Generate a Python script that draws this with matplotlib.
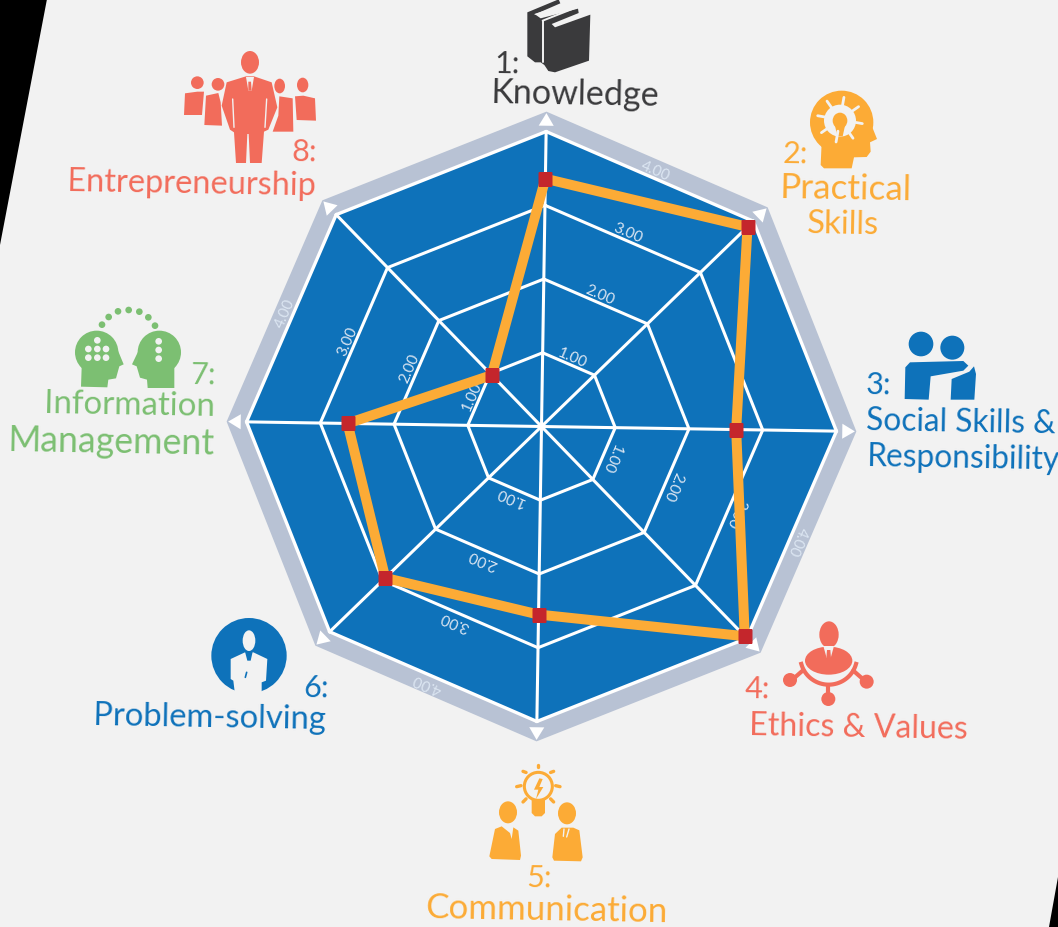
import numpy as np
import matplotlib
matplotlib.use("Agg")
import matplotlib.pyplot as plt
from matplotlib.patches import Polygon, Circle, Ellipse

# ---------- data ----------
categories = ["Knowledge", "Practical Skills", "Social Skills & Responsibility", "Ethics & Values",
              "Communication", "Problem-solving", "Information Management", "Entrepreneurship"]
values = [3.36, 3.89, 2.64, 3.96, 2.55, 2.95, 2.63, 0.97]
ring_levels = [1, 2, 3, 4]
ring_labels = ["1.00", "2.00", "3.00", "4.00"]
label_spoke_angles = [22.5, 112.5, 202.5, 292.5]

# ---------- style ----------
W, H = 1058, 928
BG = "#F2F2F2"; BLUE = "#0E72BA"; BAND = "#B8C2D4"; ORANGE = "#FCAB36"
RED = "#C4262C"; CORAL = "#F26C5B"; GREEN = "#7CBF72"; DARK = "#3A3A3C"
FONT = ["Lato", "Open Sans", "DejaVu Sans"]
CX, CY = 541.5, 427.5
PX_PER_UNIT = 73.75
TILT = 0.9
RMAX = 4.4
BAND_R = 4.27

fig = plt.figure(figsize=(W / 100, H / 100), dpi=100, facecolor=BG)

# background corners
bgax = fig.add_axes([0, 0, 1, 1], zorder=0)
bgax.set_xlim(0, W); bgax.set_ylim(H, 0); bgax.axis("off")
bgax.add_patch(Polygon([(0, 0), (47, 0), (0, 246)], fc="black", ec="none"))
bgax.add_patch(Polygon([(W, 878), (W, H), (1049, H)], fc="black", ec="none"))

# radar
R = RMAX * PX_PER_UNIT
ax = fig.add_axes([(CX - R) / W, (H - CY - R) / H, 2 * R / W, 2 * R / H],
                  projection="polar", zorder=1)
ax.patch.set_alpha(0)
ax.set_theta_zero_location("N")
ax.set_theta_direction(-1)
ax.set_theta_offset(np.pi / 2 - np.radians(TILT))
ax.set_ylim(0, RMAX)
ax.grid(False); ax.set_xticks([]); ax.set_yticks([])
ax.spines["polar"].set_visible(False)

n = len(categories)
th = np.arange(n) * 2 * np.pi / n
th_c = np.r_[th, th[0]]


def ring(r):
    return np.full(n + 1, r)


ax.fill(th_c, ring(BAND_R), fc=BAND, ec="none", zorder=1)
ax.fill(th_c, ring(ring_levels[-1]), fc=BLUE, ec="white", lw=2.4, zorder=2, joinstyle="miter")
for lv in ring_levels[:-1]:
    ax.plot(th_c, ring(lv), color="white", lw=2.2, zorder=3)
for t in th:
    ax.plot([t, t], [0, ring_levels[-1]], color="white", lw=2.2, zorder=3)
    ax.fill([t, t - 0.025, t + 0.025], [4.25, 4.08, 4.08], fc="white", ec="none", zorder=2.5)

# ring value labels
for a in label_spoke_angles:
    for lv, s in zip(ring_levels, ring_labels):
        ax.text(np.radians(a + 0.6), lv * np.cos(np.pi / 8) + 0.11, s, color="#DCE6F2", fontsize=11,
                family=FONT, rotation=-a - TILT, rotation_mode="anchor",
                ha="center", va="center", zorder=4)

# series
ax.plot(np.r_[th, th[0]], np.r_[values, values[0]], color=ORANGE, lw=7.2, zorder=5,
        solid_joinstyle="miter")
ax.plot(th, values, ls="none", marker="s", ms=10.5, mfc=RED, mec="none", zorder=6)

# overlay: icons, labels
ov = fig.add_axes([0, 0, 1, 1], zorder=2)
ov.set_xlim(0, W); ov.set_ylim(H, 0); ov.axis("off"); ov.patch.set_alpha(0)


def poly(pts, ox, oy, col, s=3.0, **kw):
    ov.add_patch(Polygon([(ox + x / s, oy + y / s) for x, y in pts], fc=col, ec="none", **kw))


def circ(x, y, r, ox, oy, col, s=3.0):
    ov.add_patch(Circle((ox + x / s, oy + y / s), r / s, fc=col, ec="none"))


def ell(x, y, w, h, ox, oy, col, s=3.0, ang=0):
    ov.add_patch(Ellipse((ox + x / s, oy + y / s), w / s, h / s, angle=ang, fc=col, ec="none"))


def seg(x0, y0, x1, y1, ox, oy, col, lw=2, s=3.0):
    ov.plot([ox + x0 / s, ox + x1 / s], [oy + y0 / s, oy + y1 / s], color=col, lw=lw,
            solid_capstyle="round")


# 1 books
ox, oy = 440, 0
poly([(262, 40), (356, 1), (361, 13), (285, 46), (302, 58), (414, 29), (416, 42), (335, 75), (345, 85),
      (451, 47), (447, 185), (345, 220), (325, 216), (313, 198), (302, 190), (285, 190), (262, 172)], ox, oy, DARK)
seg(285, 46, 390, 12, ox, oy, BG, 0.8)
seg(308, 65, 308, 190, ox, oy, BG, 1.4)
seg(308, 65, 412, 24, ox, oy, BG, 1.4)

# 2 head with gear
ox, oy = 740, 80
circ(305, 130, 95, ox, oy, ORANGE)
poly([(245, 190), (242, 258), (252, 268), (335, 268), (342, 235), (380, 234), (392, 218), (390, 190),
      (411, 180), (395, 140), (360, 90), (300, 100)], ox, oy, ORANGE)
circ(300, 125, 48, ox, oy, BG)
for a in np.radians(np.arange(0, 360, 45) + 10):
    seg(300 + 35 * np.cos(a), 122 + 35 * np.sin(a), 300 + 68 * np.cos(a), 122 + 68 * np.sin(a), ox, oy, BG, 2.0)
ell(300, 125, 44, 48, ox, oy, ORANGE)
poly([(285, 140), (315, 140), (308, 172), (292, 172)], ox, oy, ORANGE)

# 3 hug
circ(543, 795, 37, ox, oy, BLUE)
circ(637, 806, 36, ox, oy, BLUE)
poly([(494, 960), (496, 865), (510, 850), (670, 846), (685, 860), (670, 875), (572, 892), (566, 962)], ox, oy, BLUE)
poly([(632, 962), (635, 900), (688, 878), (702, 862), (708, 885), (703, 962)], ox, oy, BLUE)

# 4 ethics person
ox, oy = 770, 615
ell(177, 62, 58, 80, ox, oy, CORAL)
ell(176, 140, 142, 84, ox, oy, CORAL)
poly([(160, 96), (192, 96), (182, 132), (170, 132)], ox, oy, BG)
poly([(171, 108), (181, 108), (183, 132), (169, 132)], ox, oy, CORAL)
t = np.radians(np.linspace(15, 165, 40))
ov.plot(ox + (176 + 85 * np.cos(t)) / 3, oy + (128 + 84 * np.sin(t)) / 3, color=CORAL, lw=3.0)
circ(60, 198, 21, ox, oy, CORAL)
circ(290, 203, 21, ox, oy, CORAL)
circ(175, 255, 21, ox, oy, CORAL)
seg(75, 190, 100, 168, ox, oy, CORAL, 3)
seg(275, 192, 250, 170, ox, oy, CORAL, 3)
seg(175, 212, 175, 240, ox, oy, CORAL, 3)

# 5 communication
ox, oy = 480, 760
for a in np.radians([-90, -45, 0, 45, 135, 180, 225]):
    seg(175 + 52 * np.cos(a), 80 + 56 * np.sin(a), 175 + 65 * np.cos(a), 83 + 65 * np.sin(a), ox, oy, ORANGE, 2.4)
ov.add_patch(Ellipse((ox + 175 / 3, oy + 82 / 3), 84 / 3, 84 / 3, fc="none", ec=ORANGE, lw=2.2))
poly([(155, 122), (195, 122), (195, 162), (185, 172), (165, 172), (155, 162)], ox, oy, ORANGE)
poly([(178, 58), (162, 92), (175, 92), (168, 120), (190, 84), (178, 84), (188, 60)], ox, oy, ORANGE)
ell(84, 160, 54, 66, ox, oy, ORANGE)
ell(261, 163, 54, 66, ox, oy, ORANGE)
poly([(45, 210), (65, 202), (90, 222), (95, 240), (100, 205), (115, 215), (123, 290), (120, 303),
      (35, 300), (28, 292)], ox, oy, ORANGE)
poly([(245, 206), (280, 206), (298, 214), (308, 295), (303, 307), (222, 305), (217, 295), (225, 225)], ox, oy, ORANGE)
seg(252, 210, 250, 232, ox, oy, BG, 1)
seg(267, 210, 260, 234, ox, oy, BG, 1)

# 6 problem solving
ox, oy = 0, 290
circ(747, 1100, 113, ox, oy, BLUE)
ell(747, 1055, 38, 62, ox, oy, BG)
poly([(692, 1110), (735, 1090), (760, 1090), (802, 1110), (798, 1175), (785, 1180), (785, 1216),
      (705, 1216), (700, 1175), (692, 1170)], ox, oy, BG)
poly([(735, 1088), (758, 1088), (752, 1115), (742, 1115)], ox, oy, BLUE)
seg(740, 1150, 736, 1165, ox, oy, BLUE, 1.2)

# 7 information heads
circ(290, 190, 65, ox, oy, GREEN)
poly([(245, 235), (243, 293), (322, 295), (325, 272), (348, 268), (358, 232), (371, 226), (352, 180), (290, 150)], ox, oy, GREEN)
for x, y in [(292, 154), (265, 180), (292, 180), (318, 180), (265, 206), (292, 206), (318, 206)]:
    circ(x, y, 10, ox, oy, BG)
circ(478, 190, 65, ox, oy, GREEN)
poly([(523, 235), (523, 297), (443, 297), (441, 272), (420, 266), (410, 232), (396, 226), (418, 180), (478, 150)], ox, oy, GREEN)
for x, y in [(476, 157), (476, 183), (476, 209)]:
    circ(x, y, 10, ox, oy, BG)
for x, y in [(306, 107), (326, 84), (354, 67), (386, 63), (418, 68), (445, 85), (465, 110)]:
    circ(x, y, 10, ox, oy, GREEN)

# 8 entrepreneurship
ox, oy = 0, 0
ell(750, 190, 54, 68, ox, oy, CORAL)
poly([(738, 232), (762, 232), (815, 250), (832, 325), (805, 392), (792, 398), (785, 492), (750, 492), (746, 405),
      (742, 405), (738, 492), (708, 492), (702, 400), (690, 392), (665, 320), (680, 250)], ox, oy, CORAL)
poly([(738, 234), (762, 234), (755, 275), (745, 275)], ox, oy, BG)
poly([(745, 248), (753, 248), (755, 275), (745, 275)], ox, oy, CORAL)
seg(698, 300, 702, 385, ox, oy, BG, 1)
seg(800, 300, 795, 385, ox, oy, BG, 1)
circ(592, 251, 19, ox, oy, CORAL)
poly([(555, 283), (592, 278), (612, 278), (606, 348), (552, 348)], ox, oy, CORAL)
circ(654, 256, 19, ox, oy, CORAL)
poly([(618, 290), (655, 282), (662, 310), (666, 380), (613, 378)], ox, oy, CORAL)
ell(839, 261, 32, 44, ox, oy, CORAL)
poly([(838, 292), (878, 298), (880, 398), (818, 398), (835, 350)], ox, oy, CORAL)
ell(908, 258, 34, 44, ox, oy, CORAL)
poly([(885, 292), (910, 290), (945, 298), (948, 365), (890, 363)], ox, oy, CORAL)

# text labels (text, x, y, ha, colour, width in pixels the word spans)
label_items = [
    ("1:", 507, 64, "center", DARK, 0), ("Knowledge", 575, 94, "center", DARK, 169),
    ("2:", 795, 154, "center", ORANGE, 0), ("Practical", 846, 189, "center", ORANGE, 131), ("Skills", 843, 225, "center", ORANGE, 72),
    ("3:", 879, 385, "center", BLUE, 0), ("Social Skills &", 866, 421, "left", BLUE, 189), ("Responsibility", 866, 457, "left", BLUE, 192),
    ("4:", 757, 689, "center", CORAL, 0), ("Ethics & Values", 749, 726, "left", CORAL, 218),
    ("5:", 539, 878, "center", ORANGE, 0), ("Communication", 547, 910, "center", ORANGE, 241),
    ("6:", 316, 688, "center", BLUE, 0), ("Problem-solving", 326, 720, "right", BLUE, 233),
    ("7:", 203, 375, "center", GREEN, 0), ("Information", 215, 407, "right", GREEN, 170), ("Management", 215, 444, "right", GREEN, 206),
    ("8:", 304, 152, "center", CORAL, 0), ("Entrepreneurship", 316, 186, "right", CORAL, 248),
]
renderer = fig.canvas.get_renderer()
for s, x, y, ha, col, w in label_items:
    txt = ov.text(x, y, s, color=col, fontsize=22, family=FONT, ha=ha, va="center",
                  rotation=-1, rotation_mode="anchor")
    if w:
        txt.set_rotation(0)
        cur = txt.get_window_extent(renderer).width
        txt.set_fontsize(min(22 * w / cur, 27))
        txt.set_rotation(-1)

fig.savefig("out.png", dpi=100, facecolor=BG)
